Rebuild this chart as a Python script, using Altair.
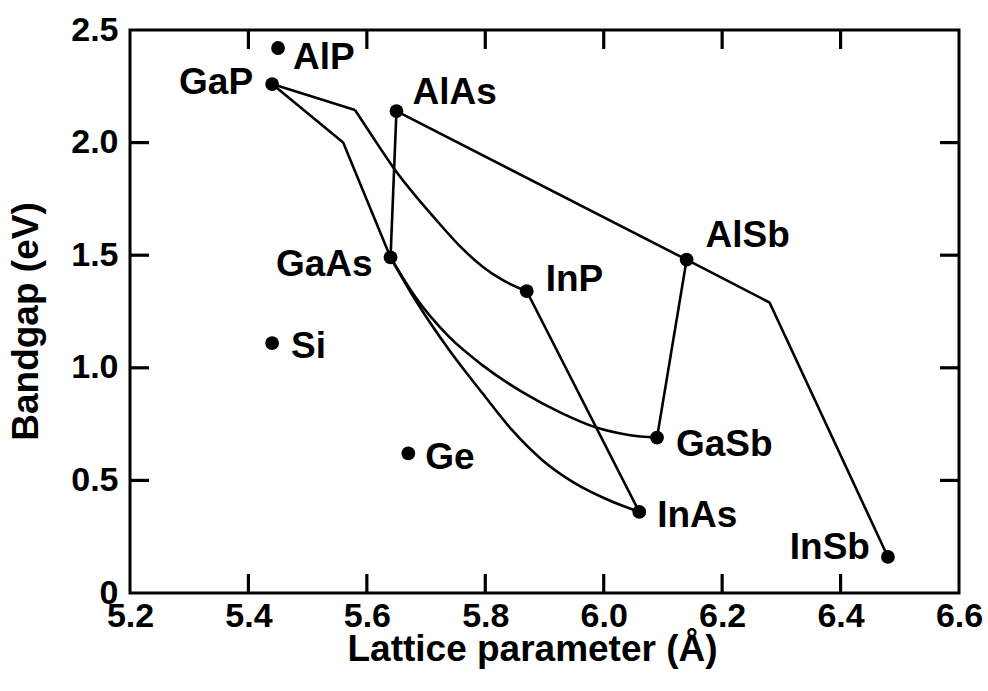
import altair as alt
import pandas as pd

# Binary compounds and elemental semiconductors: lattice constant (Å) and bandgap (eV)
compounds = ["AlP", "GaP", "AlAs", "GaAs", "Si", "Ge", "InP", "AlSb", "GaSb", "InAs", "InSb"]
lattice = [5.45, 5.44, 5.65, 5.64, 5.44, 5.67, 5.87, 6.14, 6.09, 6.06, 6.48]
bandgap = [2.42, 2.26, 2.14, 1.49, 1.11, 0.62, 1.34, 1.48, 0.69, 0.36, 0.16]

# Ternary alloy tie-lines drawn as straight segments (with their bend points)
gaasp_x = [5.44, 5.56, 5.64]
gaasp_y = [2.26, 2.00, 1.49]
gainp_edge_x = [5.44, 5.58]
gainp_edge_y = [2.26, 2.145]
algaas_x = [5.65, 5.64]
algaas_y = [2.14, 1.49]
alassb_insb_x = [5.65, 6.14, 6.28, 6.48]
alassb_insb_y = [2.14, 1.48, 1.29, 0.16]
algasb_x = [6.14, 6.09]
algasb_y = [1.48, 0.69]
inasp_x = [5.87, 6.06]
inasp_y = [1.34, 0.36]

# Bowed alloy curves
gainp_curve_x = [5.58, 5.610, 5.644, 5.716, 5.761, 5.795, 5.829, 5.87]
gainp_curve_y = [2.145, 2.025, 1.892, 1.66, 1.53, 1.45, 1.39, 1.34]
gaassb_x = [5.64, 5.682, 5.739, 5.795, 5.862, 5.929, 5.985, 6.042, 6.09]
gaassb_y = [1.49, 1.314, 1.137, 1.012, 0.893, 0.799, 0.737, 0.702, 0.69]
gainas_x = [5.64, 5.682, 5.739, 5.795, 5.845, 5.896, 5.951, 6.008, 6.06]
gainas_y = [1.49, 1.301, 1.079, 0.888, 0.724, 0.591, 0.488, 0.413, 0.36]

# Axis ticks and labels
x_labels = [5.2, 5.4, 5.6, 5.8, 6.0, 6.2, 6.4, 6.6]
y_labels = [0.0, 0.5, 1.0, 1.5, 2.0, 2.5]
x_ticks = [5.4, 5.6, 5.8, 6.0, 6.2, 6.4]
y_ticks = [0.5, 1.0, 1.5, 2.0]

X_DOMAIN = [5.2, 6.6]
Y_DOMAIN = [0.0, 2.5]
W, H = 829, 563
FONT = "Liberation Sans"
TICK_LEN = 19  # pixels, drawn inward from every side of the frame


def segments(named):
    rows = []
    for name, (xs, ys) in named.items():
        for i, (x, y) in enumerate(zip(xs, ys)):
            rows.append({"seg": name, "i": i, "a": x, "e": y})
    return pd.DataFrame(rows)


straight_df = segments({
    "GaAsP": (gaasp_x, gaasp_y),
    "GaInP-edge": (gainp_edge_x, gainp_edge_y),
    "AlGaAs": (algaas_x, algaas_y),
    "AlAsSb-AlInSb": (alassb_insb_x, alassb_insb_y),
    "AlGaSb": (algasb_x, algasb_y),
    "InAsP": (inasp_x, inasp_y),
})
curve_df = segments({
    "GaInP": (gainp_curve_x, gainp_curve_y),
    "GaAsSb": (gaassb_x, gaassb_y),
    "GaInAs": (gainas_x, gainas_y),
})
points_df = pd.DataFrame({"name": compounds, "a": lattice, "e": bandgap})
xt_df = pd.DataFrame({"a": x_ticks})
yt_df = pd.DataFrame({"e": y_ticks})

x_scale = alt.Scale(domain=X_DOMAIN, nice=False, zero=False)
y_scale = alt.Scale(domain=Y_DOMAIN, nice=False, zero=False)

x_enc = alt.X(
    "a:Q", scale=x_scale,
    axis=alt.Axis(
        values=x_labels, format=".1f", title="Lattice parameter (Å)",
        domain=False, ticks=False, grid=False,
        labelFont=FONT, labelFontSize=34, labelFontWeight="bold", labelColor="black",
        labelPadding=6, labelFlush=False, labelOverlap=False,
        titleFont=FONT, titleFontSize=37, titleFontWeight="bold", titleColor="black",
        titleX=402, titleY=67, titleBaseline="alphabetic", titleAlign="center",
    ),
)
y_enc = alt.Y(
    "e:Q", scale=y_scale,
    axis=alt.Axis(
        values=y_labels, title="Bandgap (eV)",
        labelExpr="datum.value == 0 ? '0' : format(datum.value, '.1f')",
        domain=False, ticks=False, grid=False,
        labelFont=FONT, labelFontSize=34, labelFontWeight="bold", labelColor="black",
        labelPadding=12, labelFlush=False, labelOverlap=False,
        titleFont=FONT, titleFontSize=37, titleFontWeight="bold", titleColor="black",
        titleAngle=270, titleX=-93, titleY=291, titleBaseline="alphabetic",
        titleAlign="center",
    ),
)

# Inward tick marks on all four sides of the frame
top_ticks = alt.Chart(xt_df).mark_rule(color="black", strokeWidth=3.2).encode(
    x=alt.X("a:Q", scale=x_scale), y=alt.value(0), y2=alt.value(TICK_LEN))
bottom_ticks = alt.Chart(xt_df).mark_rule(color="black", strokeWidth=3.2).encode(
    x=alt.X("a:Q", scale=x_scale), y=alt.value(H - TICK_LEN), y2=alt.value(H))
left_ticks = alt.Chart(yt_df).mark_rule(color="black", strokeWidth=3.2).encode(
    y=alt.Y("e:Q", scale=y_scale), x=alt.value(0), x2=alt.value(TICK_LEN))
right_ticks = alt.Chart(yt_df).mark_rule(color="black", strokeWidth=3.2).encode(
    y=alt.Y("e:Q", scale=y_scale), x=alt.value(W - TICK_LEN), x2=alt.value(W))

straight = alt.Chart(straight_df).mark_line(
    color="black", strokeWidth=2.6, interpolate="linear", strokeJoin="miter"
).encode(x=x_enc, y=y_enc, detail="seg:N", order="i:Q")

curves = alt.Chart(curve_df).mark_line(
    color="black", strokeWidth=2.6, interpolate="monotone"
).encode(x=alt.X("a:Q", scale=x_scale), y=alt.Y("e:Q", scale=y_scale),
         detail="seg:N", order="i:Q")

dots = alt.Chart(points_df).mark_circle(color="black", opacity=1, size=190).encode(
    x=alt.X("a:Q", scale=x_scale), y=alt.Y("e:Q", scale=y_scale)
)

# Compound labels: alignment and pixel offset from each dot
label_place = {
    "AlP": ("left", 15, 10),
    "GaP": ("right", -19, -1),
    "AlAs": ("left", 16, -18),
    "GaAs": ("right", -18, 8),
    "Si": ("left", 19, 4),
    "Ge": ("left", 17, 5),
    "InP": ("left", 19, -11),
    "AlSb": ("left", 19, -24),
    "GaSb": ("left", 19, 7),
    "InAs": ("left", 18, 4),
    "InSb": ("right", -18, -9),
}
labels = []
for name in compounds:
    align, dx, dy = label_place[name]
    labels.append(
        alt.Chart(points_df[points_df["name"] == name]).mark_text(
            font=FONT, fontSize=37, fontWeight="bold", color="black",
            align=align, baseline="middle", dx=dx, dy=dy,
        ).encode(x=alt.X("a:Q", scale=x_scale), y=alt.Y("e:Q", scale=y_scale),
                 text="name:N")
    )

chart = alt.layer(
    straight, curves, dots, top_ticks, bottom_ticks, left_ticks, right_ticks, *labels
).properties(
    width=W, height=H,
    padding={"left": 130, "top": 30, "right": 29, "bottom": 98},
    autosize=alt.AutoSizeParams(type="none"),
    background="white",
).configure_view(stroke="black", strokeWidth=3)

chart.save("out.html", embed_options={"renderer": "svg", "actions": False})
